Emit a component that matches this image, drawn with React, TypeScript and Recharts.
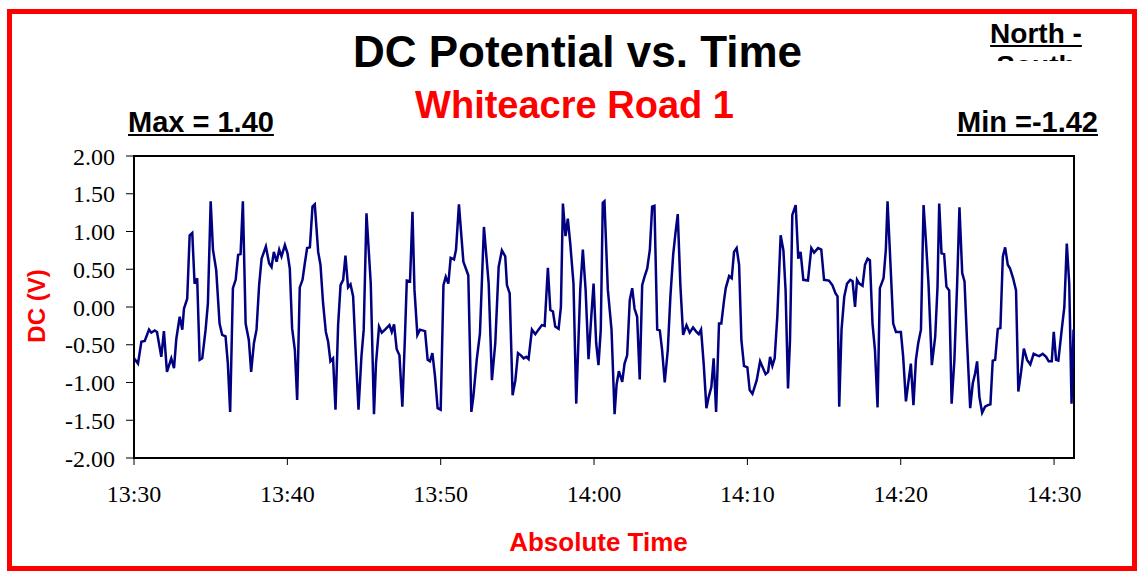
import React from 'react'
import { LineChart, Line, XAxis, YAxis, ReferenceArea } from 'recharts'

// minutes after 13:30
const minutes = [
  // 13:30 - 13:38
  0.00, 0.26, 0.48, 0.70, 0.98, 1.13, 1.35, 1.50, 1.78, 1.95,
  2.15, 2.43, 2.61, 2.76, 2.98, 3.15, 3.26, 3.47, 3.63, 3.80,
  3.95, 4.12, 4.28, 4.45, 4.67, 4.82, 5.00, 5.15, 5.36, 5.58,
  5.75, 5.97, 6.12, 6.27, 6.45, 6.63, 6.79, 6.95, 7.10, 7.28,
  7.49, 7.64,
  // 13:38 - 13:45
  7.82, 7.99, 8.16, 8.32, 8.60, 8.81, 8.97, 9.12, 9.30, 9.47,
  9.62, 9.84, 10.01, 10.16, 10.31, 10.49, 10.64, 10.81, 10.99, 11.14,
  11.29, 11.47, 11.64, 11.79, 12.01, 12.16, 12.33, 12.51, 12.66, 12.81,
  12.98, 13.14, 13.31, 13.47, 13.64, 13.79, 13.96, 14.12, 14.29, 14.46,
  14.64, 14.83, 14.98, 15.16,
  // 13:45 - 13:53
  15.44, 15.65, 15.78, 15.98, 16.16, 16.37, 16.66, 16.81, 16.96, 17.13,
  17.31, 17.50, 17.67, 17.79, 18.00, 18.16, 18.29, 18.48, 18.65, 18.98,
  19.15, 19.30, 19.46, 19.63, 19.80, 20.00, 20.18, 20.33, 20.50, 20.65,
  20.87, 21.00, 21.19, 21.48, 21.80, 22.00, 22.13, 22.35, 22.56, 22.82,
  // 13:53 - 14:01
  23.13, 23.34, 23.56, 23.78, 23.99, 24.21, 24.32, 24.50, 24.69, 24.87,
  25.04, 25.23, 25.41, 25.58, 25.73, 25.95, 26.17, 26.38, 26.60, 26.78,
  26.99, 27.15, 27.32, 27.47, 27.69, 27.84, 27.97, 28.14, 28.29, 28.45,
  28.66, 28.84, 29.10, 29.27, 29.45, 29.64, 29.82, 29.97, 30.14, 30.29,
  30.44, 30.57,
  // 14:01 - 14:08
  30.68, 30.90, 31.14, 31.34, 31.47, 31.62, 31.84, 31.99, 32.16, 32.33,
  32.49, 32.64, 32.81, 32.98, 33.14, 33.29, 33.47, 33.64, 33.79, 33.94,
  34.12, 34.29, 34.44, 34.61, 34.81, 34.98, 35.16, 35.31, 35.46, 35.63,
  35.81, 36.03, 36.24, 36.46, 36.68, 36.83, 36.98, 37.15, 37.33, 37.48,
  37.65, 37.80, 37.96, 38.15,
  // 14:08 - 14:16
  38.30, 38.48, 38.59, 38.81, 38.98, 39.13, 39.30, 39.46, 39.61, 39.78,
  40.00, 40.15, 40.33, 40.61, 40.83, 40.98, 41.19, 41.35, 41.48, 41.63,
  41.78, 41.95, 42.17, 42.35, 42.49, 42.65, 42.78, 42.93, 43.15, 43.32,
  43.47, 43.65, 43.95, 44.17, 44.35, 44.61, 44.82, 45.00, 45.32, 45.54,
  45.75,
  // 14:16 - 14:23
  45.88, 45.99, 46.14, 46.32, 46.50, 46.71, 46.86, 47.02, 47.15, 47.30,
  47.51, 47.67, 47.84, 47.99, 48.16, 48.32, 48.49, 48.64, 48.88, 49.03,
  49.14, 49.32, 49.51, 49.69, 50.01, 50.16, 50.34, 50.49, 50.66, 50.83,
  50.99, 51.14, 51.32, 51.49, 51.64, 51.81, 52.03, 52.25, 52.40, 52.51,
  52.66, 52.83, 52.98, 53.16, 53.32,
  // 14:23 - 14:31
  53.50, 53.68, 53.83, 54.01, 54.16, 54.33, 54.53, 54.70, 54.85, 54.98,
  55.13, 55.31, 55.50, 55.68, 55.85, 56.00, 56.16, 56.33, 56.50, 56.66,
  56.81, 56.98, 57.13, 57.33, 57.52, 57.67, 57.85, 58.03, 58.24, 58.45,
  58.67, 58.89, 59.04, 59.26, 59.48, 59.65, 59.85, 59.98, 60.13, 60.28,
  60.50, 60.67, 60.83, 60.99, 61.14, 61.27,
]

// DC potential (V)
const dcVolts = [
  // 13:30 - 13:38
  -0.68, -0.75, -0.46, -0.45, -0.30, -0.34, -0.31, -0.33, -0.66, -0.32,
  -0.86, -0.68, -0.81, -0.42, -0.13, -0.30, -0.02, 0.11, 0.95, 0.98,
  0.31, 0.38, -0.70, -0.68, -0.30, 0.05, 1.40, 0.76, 0.49, -0.22,
  -0.37, -0.39, -0.75, -1.39, 0.25, 0.36, 0.69, 0.70, 1.40, -0.22,
  -0.44, -0.86,
  // 13:38 - 13:45
  -0.48, -0.30, 0.29, 0.64, 0.80, 0.58, 0.53, 0.73, 0.60, 0.76,
  0.67, 0.82, 0.71, 0.51, -0.28, -0.57, -1.23, 0.26, 0.36, 0.58,
  0.78, 0.79, 1.33, 1.36, 0.73, 0.56, 0.05, -0.33, -0.46, -0.72,
  -0.68, -1.36, -0.24, 0.29, 0.36, 0.68, 0.26, 0.30, 0.14, -0.61,
  -1.36, -0.66, -0.30, 1.24,
  // 13:45 - 13:53
  0.31, -1.42, -0.75, -0.26, -0.34, -0.30, -0.24, -0.33, -0.23, -0.56,
  -0.64, -1.32, -0.39, 0.35, 0.34, 1.26, 0.23, -0.37, -0.30, -0.32,
  -0.70, -0.72, -0.61, -0.92, -1.34, -1.36, 0.29, 0.40, 0.31, 0.65,
  0.63, 0.76, 1.36, 0.60, 0.42, -1.39, -1.19, -0.70, -0.35, 1.06,
  // 13:53 - 14:01
  0.31, -0.97, -0.48, 0.53, 0.75, 0.67, 0.29, 0.18, -1.17, -0.97,
  -0.61, -0.64, -0.68, -0.66, -0.69, -0.30, -0.36, -0.30, -0.24, -0.25,
  0.52, -0.04, -0.06, -0.26, -0.29, 0.00, 1.37, 0.94, 1.17, 0.84,
  0.31, -1.28, 0.23, 0.76, 0.23, -0.69, -0.13, 0.31, -0.48, -0.77,
  -0.30, 1.38,
  // 14:01 - 14:08
  1.40, 0.23, -0.30, -1.42, -1.03, -0.85, -0.99, -0.75, -0.64, 0.09,
  0.25, -0.02, -0.13, -0.96, 0.29, 0.40, 0.51, 0.76, 1.33, 1.34,
  -0.30, -0.31, -0.57, -1.00, -0.57, 0.14, 0.69, 0.98, 1.23, 0.29,
  -0.37, -0.24, -0.34, -0.27, -0.33, -0.36, -0.30, -0.75, -1.34, -1.19,
  -1.06, -0.68, -1.39, -0.22,
  // 14:08 - 14:16
  -0.22, 0.09, 0.25, 0.41, 0.38, 0.73, 0.78, 0.56, -0.44, -0.78,
  -0.80, -1.10, -1.15, -0.97, -0.72, -0.79, -0.89, -0.86, -0.66, -0.78,
  -0.68, -0.13, 0.95, 0.75, 0.23, -1.08, -0.44, 1.22, 1.35, 0.64,
  0.73, 0.36, 0.35, 0.78, 0.72, 0.78, 0.76, 0.36, 0.35, 0.29,
  0.18,
  // 14:16 - 14:23
  0.14, -1.32, -0.30, 0.14, 0.31, 0.36, 0.34, 0.00, 0.36, 0.31,
  0.28, 0.56, 0.64, 0.62, -0.22, -0.57, -1.33, 0.25, 0.38, 0.76,
  1.40, 0.62, -0.22, -0.33, -0.33, -0.66, -1.25, -1.01, -0.75, -1.30,
  -0.70, -0.48, -0.30, 1.35, 0.89, 0.31, -0.77, -0.39, 0.27, 1.37,
  0.71, 0.70, 0.27, 0.22, -1.28,
  // 14:23 - 14:31
  -0.70, 0.31, 1.32, 0.45, 0.34, -0.48, -1.34, -1.01, -0.88, -0.72,
  -1.19, -1.40, -1.32, -1.30, -1.29, -0.71, -0.70, -0.29, -0.28, 0.67,
  0.79, 0.56, 0.51, 0.38, 0.22, -1.12, -0.86, -0.55, -0.70, -0.76,
  -0.62, -0.64, -0.65, -0.62, -0.66, -0.72, -0.72, -0.33, -0.70, -0.71,
  -0.30, 0.00, 0.84, 0.31, -1.28, -0.30,
]

const yTicks = [-2, -1.5, -1, -0.5, 0, 0.5, 1, 1.5, 2]
const timeTicks = [0, 10, 20, 30, 40, 50, 60]
const timeLabels = ['13:30', '13:40', '13:50', '14:00', '14:10', '14:20', '14:30']

const data = minutes.map((m, i) => ({ m, dc: dcVolts[i] }))

const arial = '"Liberation Sans", Arial, sans-serif'
const times = '"Liberation Serif", "Times New Roman", serif'

const abs = (style: React.CSSProperties): React.CSSProperties => ({
  position: 'absolute',
  whiteSpace: 'nowrap',
  fontFamily: arial,
  fontWeight: 'bold',
  ...style,
})

const App = () => (
  <div style={{ position: 'absolute', left: 0, top: 0, width: 1138, height: 571, background: '#fff', overflow: 'hidden' }}>
    <div style={{ position: 'absolute', left: 7, top: 9, width: 1130, height: 562, border: '5px solid #ff0000', boxSizing: 'border-box' }} />

    <div style={{ position: 'absolute', left: 0, top: 0 }}>
      <LineChart width={1138} height={571} data={data} margin={{ top: 156, right: 64, bottom: 83, left: 74 }}>
        <XAxis
          dataKey="m"
          type="number"
          domain={[0, 61.3]}
          ticks={timeTicks}
          interval={0}
          height={30}
          tickSize={7}
          tickMargin={20}
          tickFormatter={(v: number) => timeLabels[timeTicks.indexOf(v)]}
          tick={{ fill: '#000', fontSize: 24, fontFamily: times }}
          tickLine={{ stroke: '#000', strokeWidth: 1 }}
          axisLine={{ stroke: '#000', strokeWidth: 2 }}
        />
        <YAxis
          type="number"
          domain={[-2, 2]}
          ticks={yTicks}
          interval={0}
          width={60}
          tickSize={8}
          tickMargin={11}
          tickFormatter={(v: number) => v.toFixed(2)}
          tick={{ fill: '#000', fontSize: 24, fontFamily: times }}
          tickLine={{ stroke: '#000', strokeWidth: 1 }}
          axisLine={{ stroke: '#000', strokeWidth: 2 }}
        />
        <ReferenceArea x1={0} x2={61.3} y1={-2} y2={2} fill="none" stroke="#000" strokeWidth={2} ifOverflow="visible" />
        <Line type="linear" dataKey="dc" stroke="#000080" strokeWidth={2.5} dot={false} isAnimationActive={false} />
      </LineChart>
    </div>

    <div style={abs({ left: 0, top: 30, width: 1155, textAlign: 'center', fontSize: 44, lineHeight: '44px', color: '#000' })}>
      DC Potential vs. Time
    </div>
    <div style={abs({ left: 0, top: 86, width: 1149, textAlign: 'center', fontSize: 38, lineHeight: '38px', color: '#ff0000' })}>
      Whiteacre Road 1
    </div>
    <div style={abs({ left: 128, top: 108, fontSize: 29, lineHeight: '29px', color: '#000', textDecoration: 'underline' })}>
      Max = 1.40
    </div>
    <div style={abs({ right: 40, top: 108, fontSize: 29, lineHeight: '29px', color: '#000', textDecoration: 'underline' })}>
      Min =-1.42
    </div>
    <div style={{ ...abs({ left: 980, top: 18, width: 112, height: 43, overflow: 'hidden', textAlign: 'center', fontSize: 28, lineHeight: '32px', color: '#000', textDecoration: 'underline' }), whiteSpace: 'normal' }}>
      North - South
    </div>
    <div style={abs({ left: 37, top: 306, transform: 'translate(-50%, -50%) rotate(-90deg)', fontSize: 24, lineHeight: '24px', color: '#ff0000' })}>
      DC (V)
    </div>
    <div style={abs({ left: 0, top: 529, width: 1197, textAlign: 'center', fontSize: 26, lineHeight: '26px', color: '#ff0000' })}>
      Absolute Time
    </div>
  </div>
)

export default App
